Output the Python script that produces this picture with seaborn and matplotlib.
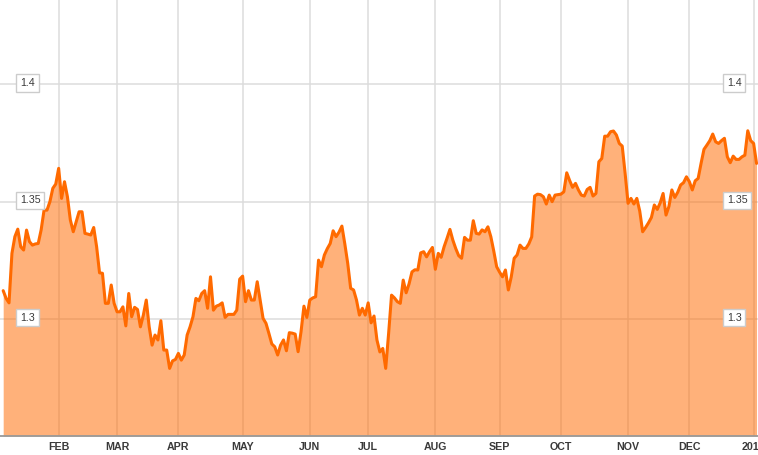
import numpy as np
import pandas as pd
import matplotlib
matplotlib.use("Agg")
import matplotlib.pyplot as plt
import matplotlib.transforms as mtransforms
import seaborn as sns

# ── Data: daily rate on business days, 7 Jan 2013 → 2 Jan 2014 ───────────────
RATES = [
    1.3121, 1.3088, 1.3069, 1.3280, 1.3351, 1.3383, 1.3308, 1.3294, 1.3379, 1.3330,
    1.3315, 1.3320, 1.3322, 1.3380, 1.3464, 1.3464, 1.3500, 1.3557, 1.3575, 1.3642,
    1.3514, 1.3585, 1.3521, 1.3422, 1.3372, 1.3414, 1.3457, 1.3457, 1.3365, 1.3362,
    1.3358, 1.3390, 1.3308, 1.3197, 1.3195, 1.3067, 1.3067, 1.3145, 1.3067, 1.3031,
    1.3031, 1.3052, 1.2971, 1.3109, 1.3010, 1.3050, 1.3041, 1.2967, 1.3017, 1.3081,
    1.2967, 1.2889, 1.2932, 1.2911, 1.2993, 1.2868, 1.2868, 1.2790, 1.2822, 1.2828,
    1.2854, 1.2825, 1.2847, 1.2932, 1.2967, 1.3010, 1.3088, 1.3078, 1.3109, 1.3121,
    1.3046, 1.3180, 1.3038, 1.3055, 1.3060, 1.3069, 1.3007, 1.3020, 1.3020, 1.3020,
    1.3038, 1.3170, 1.3183, 1.3074, 1.3121, 1.3081, 1.3081, 1.3159, 1.3081, 1.3003,
    1.2982, 1.2939, 1.2894, 1.2882, 1.2847, 1.2889, 1.2911, 1.2865, 1.2942, 1.2940,
    1.2936, 1.2861, 1.2946, 1.3055, 1.3007, 1.3081, 1.3090, 1.3095, 1.3251, 1.3223,
    1.3273, 1.3300, 1.3322, 1.3376, 1.3351, 1.3370, 1.3396, 1.3320, 1.3237, 1.3131,
    1.3124, 1.3081, 1.3017, 1.3046, 1.3017, 1.3069, 1.2984, 1.3013, 1.2911, 1.2860,
    1.2875, 1.2790, 1.2939, 1.3102, 1.3090, 1.3074, 1.3067, 1.3166, 1.3112, 1.3150,
    1.3201, 1.3210, 1.3209, 1.3282, 1.3287, 1.3265, 1.3287, 1.3305, 1.3212, 1.3280,
    1.3263, 1.3308, 1.3344, 1.3382, 1.3336, 1.3300, 1.3270, 1.3259, 1.3348, 1.3336,
    1.3336, 1.3419, 1.3365, 1.3362, 1.3380, 1.3372, 1.3393, 1.3351, 1.3290, 1.3223,
    1.3200, 1.3180, 1.3209, 1.3124, 1.3180, 1.3259, 1.3273, 1.3315, 1.3301, 1.3301,
    1.3320, 1.3350, 1.3524, 1.3532, 1.3530, 1.3521, 1.3490, 1.3528, 1.3500, 1.3528,
    1.3530, 1.3532, 1.3542, 1.3623, 1.3590, 1.3561, 1.3578, 1.3550, 1.3528, 1.3524,
    1.3552, 1.3561, 1.3524, 1.3535, 1.3670, 1.3684, 1.3779, 1.3779, 1.3798, 1.3801,
    1.3784, 1.3748, 1.3737, 1.3620, 1.3493, 1.3514, 1.3490, 1.3514, 1.3460, 1.3372,
    1.3390, 1.3410, 1.3433, 1.3486, 1.3467, 1.3495, 1.3535, 1.3443, 1.3480, 1.3550,
    1.3518, 1.3540, 1.3571, 1.3581, 1.3606, 1.3585, 1.3550, 1.3589, 1.3599, 1.3663,
    1.3723, 1.3741, 1.3760, 1.3788, 1.3755, 1.3748, 1.3760, 1.3770, 1.3691, 1.3666,
    1.3694, 1.3680, 1.3680, 1.3691, 1.3698, 1.3802, 1.3760, 1.3748, 1.3663,
]
MONTH_LABELS = ["FEB", "MAR", "APR", "MAY", "JUN", "JUL",
                "AUG", "SEP", "OCT", "NOV", "DEC", "2014"]
Y_TICKS = [1.3, 1.35, 1.4]
Y_LABELS = ["1.3", "1.35", "1.4"]

# ── Style ────────────────────────────────────────────────────────────────────
LINE_COL = "#ff6a00"
GRID_COL = "#dcdcdc"
TEXT_COL = "#3a3a3a"

sns.set_style("white")
plt.rcParams["font.family"] = ["Liberation Sans", "DejaVu Sans"]

# business-day axis: every weekday is one step
days = pd.bdate_range("2013-01-01", "2014-01-02")
dates = days[-len(RATES):]
df = pd.DataFrame({"date": dates, "rate": RATES})
df["pos"] = days.get_indexer(df["date"])

# first weekday of each month → tick / gridline
firsts = days.to_series().groupby([days.year, days.month]).first()
tick_pos = [days.get_loc(d) for d in firsts.values[1:]]

Y_MIN, Y_MAX = 1.2502, 1.4359

fig = plt.figure(figsize=(7.58, 4.55), dpi=100)
ax = fig.add_axes([0, 19 / 455, 1, 436 / 455])

# translucent area over the grid, solid line on top
ax.fill_between(df["pos"], df["rate"], Y_MIN, color=LINE_COL, alpha=0.52,
                lw=0, zorder=1)
sns.lineplot(data=df, x="pos", y="rate", color=LINE_COL, lw=2.2, ax=ax, zorder=3)

ax.set_xlim(2.91, 262.5)
ax.set_ylim(Y_MIN, Y_MAX)
ax.set_xlabel("")
ax.set_ylabel("")

ax.set_xticks(tick_pos)
ax.set_xticklabels(MONTH_LABELS[:len(tick_pos)], fontsize=7.7,
                   fontweight="bold", color=TEXT_COL)
ax.set_yticks(Y_TICKS)
ax.tick_params(axis="x", length=0, pad=4.5)
ax.tick_params(axis="y", length=0, labelleft=False)
ax.set_axisbelow(True)
ax.grid(True, color=GRID_COL, lw=1.1)

for side in ["top", "left", "right"]:
    ax.spines[side].set_visible(False)
ax.spines["bottom"].set_color("#999999")
ax.spines["bottom"].set_linewidth(1.3)
ax.spines["bottom"].set_zorder(4)

# boxed y labels on both sides
trans = mtransforms.blended_transform_factory(ax.transAxes, ax.transData)
box = dict(boxstyle="square,pad=0.35", fc="white", ec="#cccccc", lw=1.0)
for yv, lab in zip(Y_TICKS, Y_LABELS):
    for xf in (0.0265, 0.959):
        ax.text(xf, yv + 0.0006, lab, transform=trans, ha="left", va="center",
                fontsize=7.7, color=TEXT_COL, bbox=box, zorder=5)

fig.savefig("out.png", dpi=100)
plt.close(fig)
